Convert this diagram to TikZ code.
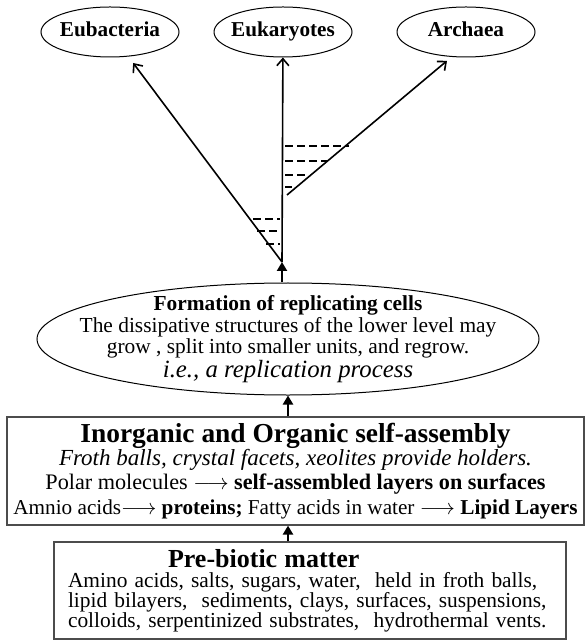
\documentclass[tikz,border=0pt]{standalone}
\usepackage{fontspec}
\setmainfont{Liberation Serif}
\usetikzlibrary{shapes.geometric,arrows.meta}

\begin{document}
\begin{tikzpicture}[x=0.5pt,y=-0.5pt]
\tikzstyle{kingdom} = [shape = ellipse,draw,line width=0.5pt,minimum width=69pt,minimum height=25pt,inner sep=0pt,text height=7.5pt,text depth=2.5pt,font=\fontsize{10.6}{12}\selectfont\bfseries]
\tikzstyle{branch} = [line width=0.8pt,-{Straight Barb[length=3.5pt,width=6pt]}]
\tikzstyle{uparrow} = [line width=1.4pt,-{Triangle[length=4.5pt,width=5pt]}]
\tikzstyle{hatch} = [line width=0.7pt,dash pattern=on 4pt off 2pt]
\tikzstyle{tierbox} = [shape = rectangle,draw = black!70,line width=0.6pt,inner sep=0pt]

\useasboundingbox (0,0) rectangle (585,640);

% the three domains
\node[kingdom] (eub) at (110,32) {\makebox[0pt]{Eubacteria}};
\node[kingdom] (euk) at (283,32) {\makebox[0pt]{Eukaryotes}};
\node[kingdom] (arc) at (466,32) {\makebox[0pt]{Archaea}};

\coordinate (fork) at (282,262);
\coordinate (split) at (287,195);

\draw[branch] (fork) -- (euk);
\draw[branch, shorten >=4pt] (fork) -- (eub);
\draw[branch, shorten >=3pt] (split) -- (arc.240);

%\draw[hatch] (285,146) -- (349,146);
\foreach \y/\xa/\xb in {146/285/349, 161/285/328, 175/285/307, 187/285/292, 219/253/280, 231/257/280, 244/266/280}
  \draw[hatch] (\xa,\y) -- (\xb,\y);

\node[shape = ellipse,draw,line width=0.5pt,minimum width=251pt,minimum height=56pt,inner sep=0pt] (rep) at (288,339) {};
\node[align=center,inner sep=0pt,font=\fontsize{10.7}{9.2}\selectfont] (reptext) at (rep.center)
  {\textbf{Formation of replicating cells}\\The dissipative structures of the lower level may\\grow , split into smaller units, and regrow.\\{\fontsize{12.4}{11}\selectfont\itshape i.e., a replication process}};

\node[tierbox,minimum width=288.5pt,minimum height=54pt,align=center,font=\fontsize{11}{11.5}\selectfont] (inorg) at (295.5,471)
  {{\fontsize{13.7}{13}\selectfont\bfseries Inorganic and Organic self-assembly}\\
   {\fontsize{11.5}{11.5}\selectfont\itshape Froth balls, crystal facets, xeolites provide holders.}\\[0.6pt]
   {\fontsize{11.1}{12}\selectfont Polar molecules $\longrightarrow$ \textbf{self-assembled layers on surfaces}}\\[0.6pt]
   {\fontsize{10.6}{12}\selectfont Amnio acids$\longrightarrow$ \textbf{proteins;} Fatty acids in water $\longrightarrow$ \textbf{Lipid Layers}}};

\node[tierbox,text width=242pt,inner xsep=7pt,minimum height=48.5pt,align=left,font=\fontsize{10.7}{10}\selectfont] (prebio) at (310,590.5)
  {\hspace*{50pt}{\fontsize{13}{12}\selectfont\bfseries Pre-biotic matter}\\
   Amino acids, salts, sugars, water,\ \ held in froth balls,\\
   lipid bilayers,\ \ sediments, clays, surfaces, suspensions,\\
   colloids, serpentinized substrates,\ \ hydrothermal vents.};

\draw[uparrow] (rep.north -| fork) -- (fork);
\draw[uparrow] (rep.south |- inorg.north) -- (rep.south);
\draw[uparrow] (rep.south |- prebio.north) -- (rep.south |- inorg.south);

\end{tikzpicture}
\end{document}
